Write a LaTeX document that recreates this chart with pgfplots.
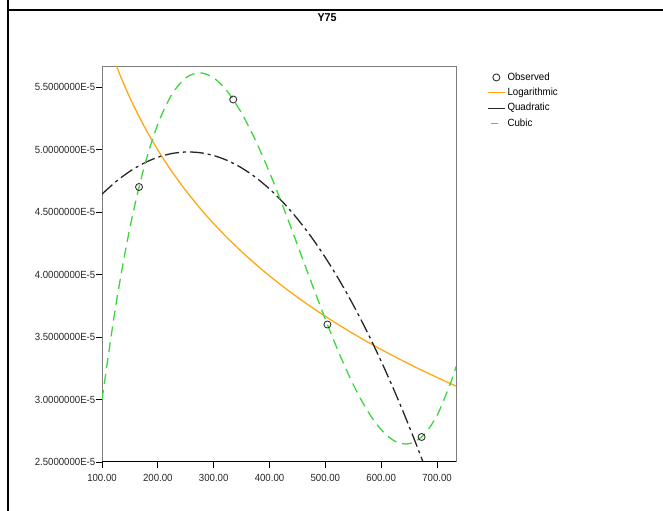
\documentclass[border=0pt]{standalone}
\usepackage{pgfplots}
\pgfplotsset{compat=1.18}
\usepackage{fontspec}
\setmainfont{Liberation Sans}[FakeStretch=0.93]
\definecolor{fitorange}{RGB}{255,168,20}
\definecolor{fitgreen}{RGB}{60,215,60}
\definecolor{framegray}{RGB}{125,125,125}

\begin{document}
\begin{tikzpicture}
\path[use as bounding box] (0bp,0bp) rectangle (663bp,511bp);
\draw[line width=2bp] (8bp,0bp) -- (8bp,511bp);
\draw[line width=2bp] (8bp,501bp) -- (663bp,501bp);
\node[font=\fontsize{11.5}{13}\selectfont\bfseries] at (327bp,493bp) {Y75};
\begin{axis}[
  at={(102bp,49bp)}, anchor=south west,
  scale only axis, width=354bp, height=395bp,
  xmin=100, xmax=734, ymin=2.5e-5, ymax=5.66e-5,
  axis line style={framegray, line width=1bp},
  tick align=outside, major tick length=6bp,
  xtick pos=bottom, ytick pos=left,
  tick style={black, line width=0.8bp},
  xtick={100,200,300,400,500,600,700},
  xticklabels={100.00,200.00,300.00,400.00,500.00,600.00,700.00},
  ytick={2.5e-5,3e-5,3.5e-5,4e-5,4.5e-5,5e-5,5.5e-5},
  yticklabels={2.5000000E-5,3.0000000E-5,3.5000000E-5,4.0000000E-5,4.5000000E-5,5.0000000E-5,5.5000000E-5},
  scaled y ticks=false, scaled x ticks=false,
  ticklabel style={font=\fontsize{10.4}{12}\selectfont, text=black!85},
  yticklabel style={inner sep=0.5bp},
  xticklabel style={inner sep=1bp, yshift=-5.5bp},
  legend style={at={(1.0876,0.9886)}, anchor=north west, draw=white, fill=white,
    font=\fontsize{10.5}{12}\selectfont, inner sep=0pt, row sep=3.9bp,
    nodes={text height=7.5bp, text depth=2bp, inner ysep=1bp, inner xsep=2bp}},
  legend cell align=left,
  every axis plot/.append style={line width=1.3bp},
]
\addplot[only marks, mark=o, mark size=3.5bp, mark options={black!80, line width=0.9bp, solid}]
  coordinates {(166.3,4.70e-5) (335.0,5.40e-5) (503.7,3.60e-5) (672.4,2.70e-5)};
\addlegendentry{Observed}
\addplot[fitorange, smooth, mark=none,
  legend image code/.code={\draw[draw=fitorange, line width=1.3bp, solid] (0bp,0bp) -- (17bp,0bp);}] coordinates {
(100,6.0025e-5) (125,5.6784e-5) (150,5.4136e-5) (175,5.1898e-5) (200,4.9958e-5)
(225,4.8248e-5) (250,4.6718e-5) (275,4.5333e-5) (300,4.4070e-5) (325,4.2907e-5)
(350,4.1831e-5) (375,4.0829e-5) (400,3.9892e-5) (425,3.9011e-5) (450,3.8181e-5)
(475,3.7396e-5) (500,3.6651e-5) (525,3.5942e-5) (550,3.5267e-5) (575,3.4621e-5)
(600,3.4003e-5) (625,3.3410e-5) (650,3.2841e-5) (675,3.2293e-5) (700,3.1764e-5)
(725,3.1255e-5) (734,3.1076e-5)};
\addlegendentry{Logarithmic}
\addplot[black!85, smooth, mark=none, dash pattern=on 14bp off 4bp on 3bp off 4bp,
  legend image code/.code={\draw[draw=black!85, line width=1.3bp, solid] (0bp,0bp) -- (17bp,0bp);}] coordinates {
(100,4.6431e-5) (125,4.7432e-5) (150,4.8257e-5) (175,4.8906e-5) (200,4.9380e-5)
(225,4.9678e-5) (250,4.9800e-5) (275,4.9746e-5) (300,4.9516e-5) (325,4.9112e-5)
(350,4.8531e-5) (375,4.7775e-5) (400,4.6842e-5) (425,4.5735e-5) (450,4.4451e-5)
(475,4.2992e-5) (500,4.1357e-5) (525,3.9546e-5) (550,3.7559e-5) (575,3.5397e-5)
(600,3.3060e-5) (625,3.0548e-5) (650,2.7859e-5) (675,2.4994e-5) (700,2.1954e-5)};
\addlegendentry{Quadratic}
\addplot[fitgreen, smooth, mark=none, dash pattern=on 10bp off 6bp,
  legend image code/.code={\draw[draw=fitgreen, line width=1.6bp, solid] (3.5bp,0bp) -- (10.5bp,0bp);}] coordinates {
(100,2.9982e-5) (125,3.7601e-5) (150,4.3741e-5) (175,4.8513e-5) (200,5.2027e-5)
(225,5.4397e-5) (250,5.5729e-5) (275,5.6135e-5) (300,5.5729e-5) (325,5.4617e-5)
(350,5.2913e-5) (375,5.0726e-5) (400,4.8167e-5) (425,4.5345e-5) (450,4.2374e-5)
(475,3.9363e-5) (500,3.6422e-5) (525,3.3663e-5) (550,3.1195e-5) (575,2.9130e-5)
(600,2.7580e-5) (625,2.6653e-5) (650,2.6460e-5) (675,2.7111e-5) (700,2.8719e-5)
(725,3.1396e-5) (734,3.2638e-5)};
\addlegendentry{Cubic}
\draw[black, line width=1.2bp] (rel axis cs:0,0) -- (rel axis cs:1,0);
\end{axis}
\end{tikzpicture}
\end{document}
